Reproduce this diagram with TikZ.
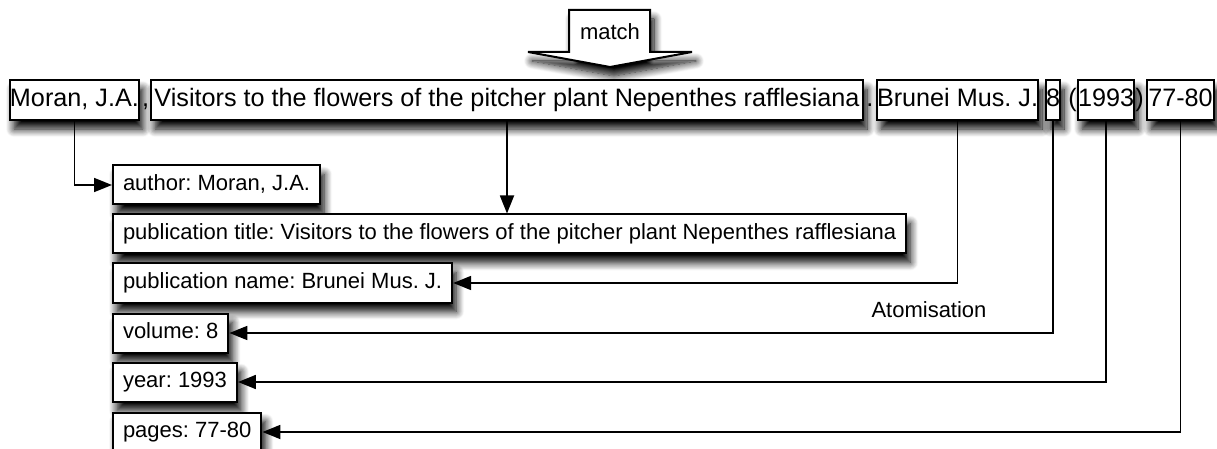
\documentclass[tikz,border=0pt]{standalone}
\usepackage{fontspec}
\setmainfont{Liberation Sans}
\frenchspacing
\usetikzlibrary{arrows.meta,shadows.blur,positioning}

\begin{document}
\begin{tikzpicture}[x=0.5pt,y=-0.5pt,
  shade box/.style={blur shadow={shadow xshift=2pt,shadow yshift=-4.5pt,
                    shadow blur radius=4pt,shadow blur steps=10,shadow opacity=100}},
  srcbox/.style={draw, line width=1pt, fill=white, shade box,
                 font=\fontsize{12.6}{15}\selectfont, inner xsep=0pt,
                 text height=9.2pt, text depth=2.6pt, minimum height=20pt,
                 anchor=west},
  punct/.style={font=\fontsize{12.6}{15}\selectfont, inner sep=0pt},
  fieldbox/.style={draw, line width=1pt, fill=white, shade box,
                   font=\fontsize{11}{13}\selectfont, inner xsep=5pt,
                   text height=8pt, text depth=2.3pt, minimum height=19.5pt,
                   anchor=west},
  conn/.style={line width=0.9pt, -{Triangle[length=9pt,width=7pt,fill=black]}}]
  % Define dimensions
  \def\TopY{100}
  \def\Lx{112}
  \useasboundingbox (0,0) rectangle (1217,449);

  % Draw match arrow
  \draw[line width=1pt, fill=white, shade box]
    (569,10) -- (650,10) -- (650,52) -- (692,52) -- (610,67)
    -- (528,52) -- (569,52) -- cycle;
  \node[font=\fontsize{11}{13}\selectfont, anchor=base] (match) at (610,40) {match};

  % Reference string
  \node[srcbox, minimum width=64pt] (moran) at (9,\TopY) {Moran, J.A.};
  \node[srcbox, minimum width=356pt] (visitors) at (150,\TopY) {Visitors to the flowers of the pitcher plant Nepenthes rafflesiana};
  \node[srcbox, minimum width=80.5pt] (brunei) at (876,\TopY) {Brunei Mus. J.};
  \node[srcbox, minimum width=6.5pt] (vol) at (1045,\TopY) {8};
  \node[srcbox, minimum width=27pt] (yr) at (1077,\TopY) {1993};
  \node[srcbox, minimum width=33.5pt] (pp) at (1146,\TopY) {77-80};
  \node[punct, anchor=base west] (comma) at ([xshift=1pt]moran.base east) {,};
  \node[punct, anchor=base west] (stop) at ([xshift=1pt]visitors.base east) {.};
  \node[punct, anchor=base west] (lpar) at ([xshift=3.5pt]vol.base east) {(};
  \node[punct, anchor=base west] (rpar) at (yr.base east) {)};

  % Atomised fields
  \node[fieldbox] (author) at (\Lx,185) {author: Moran, J.A.};
  \node[fieldbox] (ptitle) at (\Lx,234) {publication title: Visitors to the flowers of the pitcher plant Nepenthes rafflesiana};
  \node[fieldbox] (pname) at (\Lx,283) {publication name: Brunei Mus. J.};
  \node[fieldbox] (volume) at (\Lx,333) {volume: 8};
  \node[fieldbox] (year) at (\Lx,382) {year: 1993};
  \node[fieldbox] (pages) at (\Lx,432) {pages: 77-80};

  \node[font=\fontsize{11}{13}\selectfont] (atom) at (929,310) {Atomisation};

  % Draw connectors
  \draw[conn] (moran.south) |- (author.west);
  \draw[conn] (visitors.south) -- (visitors.south |- ptitle.north);
  \draw[conn] (brunei.south) |- (pname.east);
  \draw[conn] (vol.south) |- (volume.east);
  \draw[conn] (yr.south) |- (year.east);
  \draw[conn] (pp.south) |- (pages.east);
\end{tikzpicture}
\end{document}
